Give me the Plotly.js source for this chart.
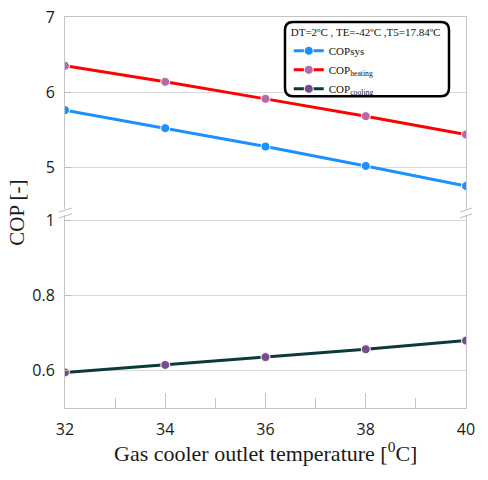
<!DOCTYPE html>
<html>
<head>
<meta charset="utf-8">
<script src="https://cdn.plot.ly/plotly-3.0.1.min.js"></script>
<style>html,body{margin:0;padding:0;background:#fff;}#chart{width:488px;height:480px;}</style>
</head>
<body>
<div id="chart"></div>
<script>
const gasCoolerTemp = [32, 34, 36, 38, 40];
const copSys = [5.76, 5.52, 5.275, 5.017, 4.75];
const copHeating = [6.35, 6.137, 5.91, 5.68, 5.435];
const copCooling = [0.595, 0.615, 0.636, 0.657, 0.68];
const xTickVals = [32, 34, 36, 38, 40];
const topTickVals = [5, 6, 7];
const topTickText = ['5', '6', '7'];
const bottomTickVals = [0.6, 0.8, 1];
const bottomTickText = ['0.6', '0.8', '1'];
const legendTitle = 'DT=2ºC , TE=-42ºC ,T5=17.84ºC';
const seriesNames = ['COPsys', 'COP<sub>heating</sub>', 'COP<sub>cooling</sub>'];
const xTitle = 'Gas cooler outlet temperature [<sup>0</sup>C]';
const yTitle = 'COP [-]';

const serif = 'Liberation Serif, Times New Roman, serif';
const sans = 'Open Sans, sans-serif';
const gridC = '#d9d9d9';
const lineC = '#c4c4c4';

const traces = [
  {x: gasCoolerTemp, y: copSys, name: seriesNames[0], type: 'scatter', mode: 'lines+markers',
   xaxis: 'x2', yaxis: 'y',
   line: {color: '#1e8fff', width: 3}, marker: {color: '#1e8fff', size: 9, line: {color: '#fff', width: 1}}},
  {x: gasCoolerTemp, y: copHeating, name: seriesNames[1], type: 'scatter', mode: 'lines+markers',
   xaxis: 'x2', yaxis: 'y',
   line: {color: '#ff0000', width: 3}, marker: {color: '#b36aa6', size: 9, line: {color: '#fff', width: 1}}},
  {x: gasCoolerTemp, y: copCooling, name: seriesNames[2], type: 'scatter', mode: 'lines+markers',
   xaxis: 'x', yaxis: 'y2',
   line: {color: '#0b3b38', width: 3}, marker: {color: '#7b4a8c', size: 9, line: {color: '#fff', width: 1}}}
];

const layout = {
  width: 488, height: 480,
  margin: {l: 65, r: 22, t: 17, b: 72},
  paper_bgcolor: '#fff', plot_bgcolor: '#fff',
  showlegend: true,
  font: {family: sans, color: '#1a1a1a'},
  xaxis: {
    anchor: 'y2', range: [32, 40], tickvals: xTickVals,
    showgrid: false, zeroline: false,
    showline: true, linecolor: lineC, linewidth: 1,
    ticks: 'inside', ticklen: 15, tickcolor: lineC,
    minor: {dtick: 1, ticks: 'inside', ticklen: 10, tickcolor: lineC, showgrid: false},
    tickfont: {family: sans, size: 16, color: '#1a1a1a'},
    ticklabelstandoff: 7
  },
  xaxis2: {
    anchor: 'y', matches: 'x', range: [32, 40], side: 'top',
    showgrid: false, zeroline: false, showticklabels: false, ticks: '',
    showline: true, linecolor: lineC, linewidth: 1
  },
  yaxis: {
    domain: [0.509, 1], range: [4.444, 7],
    tickvals: topTickVals, ticktext: topTickText,
    showgrid: true, gridcolor: gridC, zeroline: false,
    showline: true, mirror: true, linecolor: lineC, linewidth: 1,
    ticks: 'inside', ticklen: 6, tickcolor: '#bbbbbb',
    tickfont: {family: sans, size: 16, color: '#1a1a1a'},
    ticklabelstandoff: 6
  },
  yaxis2: {
    domain: [0, 0.4936], range: [0.5, 1.0155],
    tickvals: bottomTickVals, ticktext: bottomTickText,
    showgrid: true, gridcolor: gridC, zeroline: false,
    showline: true, mirror: true, linecolor: lineC, linewidth: 1,
    ticks: 'inside', ticklen: 6, tickcolor: '#bbbbbb',
    tickfont: {family: sans, size: 16, color: '#1a1a1a'},
    ticklabelstandoff: 6
  },
  legend: {
    x: 0.558, xanchor: 'left', y: 0.9872, yanchor: 'top',
    bgcolor: 'rgba(0,0,0,0)', borderwidth: 0,
    font: {family: serif, size: 11, color: '#111'},
    title: {text: legendTitle, font: {family: serif, size: 11, color: '#111'}},
    itemwidth: 30, tracegroupgap: 0
  },
  annotations: [
    {text: yTitle, xref: 'paper', yref: 'paper', x: -0.12, y: 0.499,
     xanchor: 'center', yanchor: 'middle', textangle: -90, showarrow: false,
     font: {family: serif, size: 21, color: '#1a1a1a'}},
    {text: xTitle, xref: 'paper', yref: 'paper', x: 0.5, y: -0.112,
     xanchor: 'center', yanchor: 'middle', showarrow: false,
     font: {family: serif, size: 22, color: '#1a1a1a'}}
  ],
  shapes: (function () {
    const x0 = 0.5486, x1 = 0.9576, y0 = 0.797, y1 = 0.9872;
    const rx = 0.02, ry = 0.0205;
    const p = `M ${x0 + rx},${y1} L ${x1 - rx},${y1} Q ${x1},${y1} ${x1},${y1 - ry} L ${x1},${y0 + ry} Q ${x1},${y0} ${x1 - rx},${y0} L ${x0 + rx},${y0} Q ${x0},${y0} ${x0},${y0 + ry} L ${x0},${y1 - ry} Q ${x0},${y1} ${x0 + rx},${y1} Z`;
    const brk = (xa, xb) => [
      {type: 'line', xref: 'paper', yref: 'paper', x0: xa, y0: 0.501, x1: xb, y1: 0.5115, line: {color: '#bdbdbd', width: 1}},
      {type: 'line', xref: 'paper', yref: 'paper', x0: xa, y0: 0.486, x1: xb, y1: 0.4965, line: {color: '#bdbdbd', width: 1}}
    ];
    return [
      {type: 'path', xref: 'paper', yref: 'paper', path: p, fillcolor: '#fff', line: {color: '#000', width: 2.5}, layer: 'above'},
      ...brk(-0.015, 0.0175), ...brk(0.985, 1.015)
    ];
  })()
};

Plotly.newPlot('chart', traces, layout, {displayModeBar: false, staticPlot: true});
</script>
</body>
</html>
